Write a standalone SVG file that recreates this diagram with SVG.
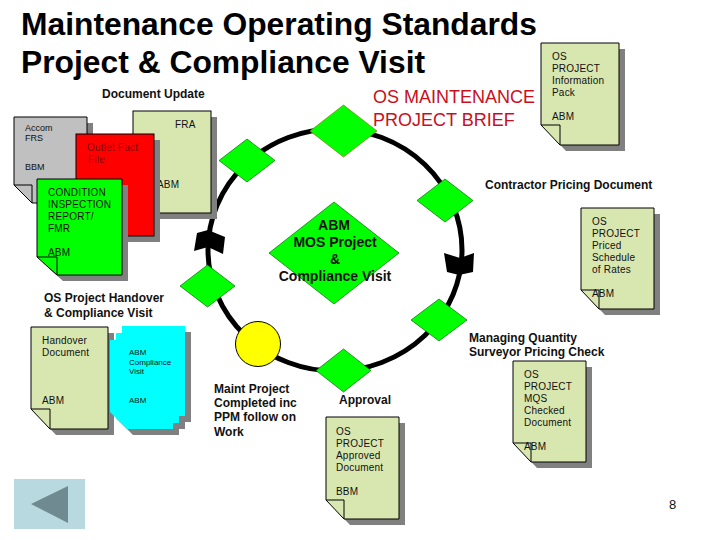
<svg xmlns="http://www.w3.org/2000/svg" width="720" height="540" viewBox="0 0 720 540">
<style>
text{font-family:"Liberation Sans",Arial,sans-serif;fill:#111}
.t{font-weight:bold;font-size:31.800px;fill:#000}
.b{font-weight:bold;font-size:12px}
.d{font-size:10px;letter-spacing:.2px}
.s{font-size:9px}
.c{font-size:8px}
.m{font-size:18px;fill:#c8101c}
.k{font-weight:bold;font-size:14px;text-anchor:middle}
.sh{fill:#808080;stroke:none}
.pg{stroke:#000;stroke-width:1}
.f{fill:none;stroke:#000;stroke-width:1}
.dm{fill:#0f0;stroke:#0a6a0a;stroke-width:.7}
.lg{fill:#d8e6b0}
</style>
<rect width="720" height="540" fill="#fff"/>
<text class="t" x="21" y="35">Maintenance Operating Standards</text>
<text class="t" x="21" y="73">Project &amp; Compliance Visit</text>
<text class="b" x="102" y="98">Document Update</text>
<text class="m" x="373" y="103">OS MAINTENANCE</text>
<text class="m" x="373" y="126">PROJECT BRIEF</text>
<text class="b" x="485" y="189">Contractor Pricing Document</text>
<text class="b" x="44" y="302">OS Project Handover</text>
<text class="b" x="44" y="317">&amp; Compliance Visit</text>
<text class="b" x="214" y="393">Maint Project</text>
<text class="b" x="214" y="407">Completed inc</text>
<text class="b" x="214" y="421">PPM follow on</text>
<text class="b" x="214" y="436">Work</text>
<text class="b" x="339" y="404">Approval</text>
<text class="b" x="469" y="342">Managing Quantity</text>
<text class="b" x="469" y="356">Surveyor Pricing Check</text>
<g id="connectors">
<ellipse cx="335" cy="250" rx="127" ry="121" fill="none" stroke="#000" stroke-width="5"/>
<polygon points="197,233 208,230 225,237 223,254 208,247 194,251" fill="#000"/>
<polygon points="444,253 460,258 474,253 473,272 459,275 447,272" fill="#000"/>
</g>
<g id="doc-accom">
<path class="sh" d="M20 123H93V209H38Z"/>
<path class="pg" fill="#c0c0c0" d="M14 117H87V203H32L14 185Z"/>
<path class="f" d="M14 185H32V203"/>
<text class="s" x="25" y="131">Accom</text><text class="s" x="25" y="141">FRS</text><text class="s" x="25" y="170">BBM</text>
</g>
<g id="doc-fra">
<rect class="sh" x="139" y="117" width="78" height="102"/>
<rect class="pg lg" x="133" y="111" width="78" height="102"/>
<text class="d" x="175" y="128">FRA</text><text class="d" x="157" y="188">ABM</text>
</g>
<g id="doc-outlet">
<rect class="sh" x="82" y="140" width="78" height="102"/>
<rect class="pg" fill="#f00" x="76" y="134" width="78" height="102"/>
<text class="d" style="fill:#7a0a0a" x="87" y="151">Outlet Fact</text><text class="d" style="fill:#7a0a0a" x="88" y="163">File</text>
</g>
<g id="doc-condition">
<path class="sh" d="M43 185H128V281H63L43 263Z"/>
<path class="pg" fill="#0f0" d="M37 179H122V275H57L37 257Z"/>
<path class="f" d="M37 257H57V275"/>
<text class="d" x="48" y="196">CONDITION</text><text class="d" x="48" y="208">INSPECTION</text><text class="d" x="48" y="220">REPORT/</text><text class="d" x="48" y="232">FMR</text><text class="d" x="48" y="256">ABM</text>
</g>
<g id="doc-info">
<path class="sh" d="M547 49H625V151H566L547 131Z"/>
<path class="pg lg" d="M541 43H619V145H560L541 125Z"/>
<path class="f" d="M541 125H560V145"/>
<text class="d" x="552" y="60">OS</text><text class="d" x="552" y="72">PROJECT</text><text class="d" x="552" y="84">Information</text><text class="d" x="552" y="96">Pack</text><text class="d" x="552" y="120">ABM</text>
</g>
<g id="doc-priced">
<path class="sh" d="M587 214H660V315H605L587 296Z"/>
<path class="pg lg" d="M581 208H654V309H599L581 290Z"/>
<path class="f" d="M581 290H599V309"/>
<text class="d" x="592" y="225">OS</text><text class="d" x="592" y="237">PROJECT</text><text class="d" x="592" y="249">Priced</text><text class="d" x="592" y="261">Schedule</text><text class="d" x="592" y="273">of Rates</text><text class="d" x="592" y="297">ABM</text>
</g>
<g id="doc-mqs">
<path class="sh" d="M519 367H592V468H537L519 449Z"/>
<path class="pg lg" d="M513 361H586V462H531L513 443Z"/>
<path class="f" d="M513 443H531V462"/>
<text class="d" x="524" y="378">OS</text><text class="d" x="524" y="390">PROJECT</text><text class="d" x="524" y="402">MQS</text><text class="d" x="524" y="414">Checked</text><text class="d" x="524" y="426">Document</text><text class="d" x="524" y="450">ABM</text>
</g>
<g id="doc-approved">
<path class="sh" d="M332 423H405V525H350L332 506Z"/>
<path class="pg lg" d="M326 417H399V519H344L326 500Z"/>
<path class="f" d="M326 500H344V519"/>
<text class="d" x="336" y="435">OS</text><text class="d" x="336" y="447">PROJECT</text><text class="d" x="336" y="459">Approved</text><text class="d" x="336" y="471">Document</text><text class="d" x="336" y="495">BBM</text>
</g>
<g id="doc-handover">
<path class="sh" d="M37 333H114V435H56L37 415Z"/>
<path class="pg lg" d="M31 327H108V429H50L31 409Z"/>
<path class="f" d="M31 409H50V429"/>
<text class="d" x="42" y="344">Handover</text><text class="d" x="42" y="356">Document</text><text class="d" x="42" y="404">ABM</text>
</g>
<g id="doc-compliance">
<path class="sh" d="M128 332H191V422H185V429H179V435H133L116 418V346H122V339H128Z"/>
<path fill="#0ff" d="M122 326H185V416H179V423H173V429H127L110 412V340H116V333H122Z"/>
<text class="c" x="129" y="355">ABM</text><text class="c" x="129" y="365">Compliance</text><text class="c" x="129" y="374">Visit</text><text class="c" x="129" y="403">ABM</text>
</g>
<g id="node-top"><polygon style="stroke:#808000" class="dm" points="310,131 343.500,105 377,131 343.500,157"/></g>
<g id="node-upper-left"><polygon class="dm" points="219,160.500 247,139 275,160.500 247,182"/></g>
<g id="node-upper-right"><polygon class="dm" points="417,200.500 445,179 473,200.500 445,222"/></g>
<g id="node-lower-left"><polygon class="dm" points="180,286 207.500,265 235,286 207.500,307"/></g>
<g id="node-lower-right"><polygon class="dm" points="411,320 439,299 467,320 439,341"/></g>
<g id="node-bottom"><polygon class="dm" points="316,370.500 343.500,349 371,370.500 343.500,392"/></g>
<g id="node-circle"><circle cx="258" cy="344" r="22.500" fill="#ff0" stroke="#000"/></g>
<g id="node-center">
<polygon class="dm" points="269,253 334,202 399,253 334,304"/>
<text class="k" x="334" y="230">ABM</text><text class="k" x="335" y="247">MOS Project</text><text class="k" x="335" y="264">&amp;</text><text class="k" x="335" y="281">Compliance Visit</text>
</g>
<g id="back-button">
<rect x="14" y="479" width="71" height="50" fill="#b8d9e0"/>
<polygon points="31,504 68,486 68,523" fill="#6f8a90"/>
</g>
<text x="669" y="509" style="font-size:13px">8</text>
</svg>
